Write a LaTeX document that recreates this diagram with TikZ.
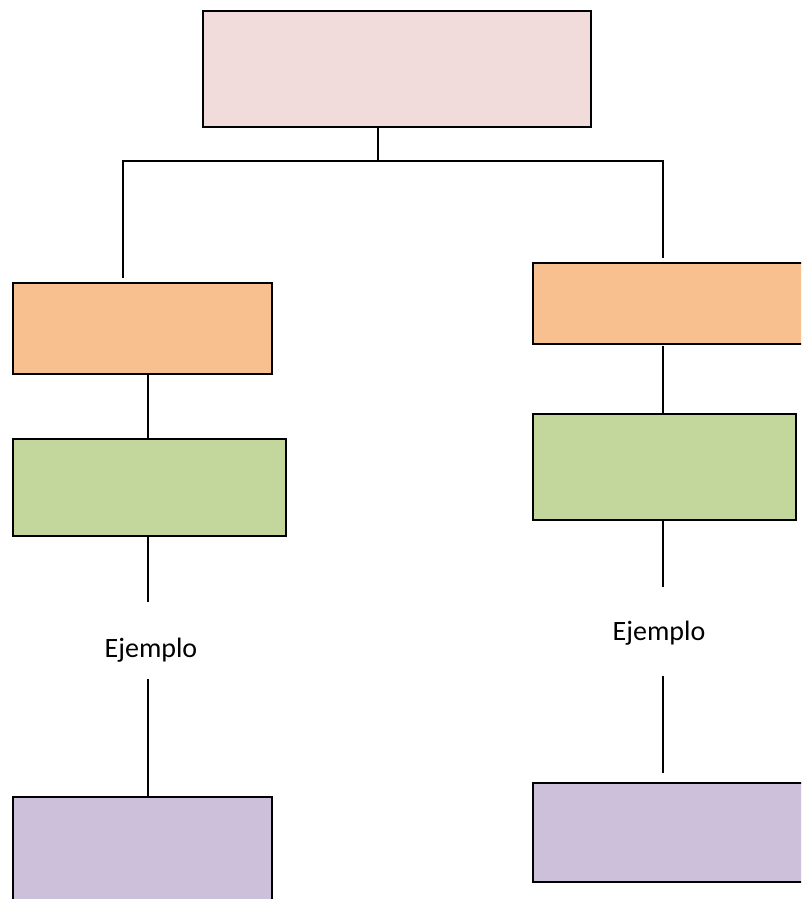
\documentclass[tikz,border=0pt]{standalone}
\usepackage{fontspec}
\setmainfont{Carlito}
\definecolor{cpink}{HTML}{F2DCDB}
\definecolor{corange}{HTML}{F8C08F}
\definecolor{cgreen}{HTML}{C3D69B}
\definecolor{cpurple}{HTML}{CCC0DA}
\begin{document}
\begin{tikzpicture}[x=1pt,y=-1pt,
  box/.style={draw=black,line width=2pt,inner sep=0pt,anchor=north west},
  conn/.style={draw=black,line width=1.6pt},
  lbl/.style={font=\fontsize{28}{32}\selectfont,anchor=base,inner sep=0pt}]
\useasboundingbox (0,0) rectangle (801,899);
\clip (0,0) rectangle (801,899);
% boxes
\node[box,fill=cpink,minimum width=388pt,minimum height=116pt] (top) at (202,10) {};
\node[box,fill=corange,minimum width=259pt,minimum height=91pt] (lor) at (12,282) {};
\node[box,fill=cgreen,minimum width=273pt,minimum height=97pt] (lgr) at (12,438) {};
\node[box,fill=cpurple,minimum width=259pt,minimum height=130pt] (lpu) at (12,796) {};
\node[box,fill=corange,minimum width=300pt,minimum height=81pt] (ror) at (532,262) {};
\node[box,fill=cgreen,minimum width=263pt,minimum height=106pt] (rgr) at (532,413) {};
\node[box,fill=cpurple,minimum width=300pt,minimum height=99pt] (rpu) at (532,782) {};
% labels
\node[lbl] (lex) at (151,657) {Ejemplo};
\node[lbl] (rex) at (659,640) {Ejemplo};
% connector points
\coordinate (tb) at (378,126);
\coordinate (tj) at (378,161);
\coordinate (lj) at (123,161);
\coordinate (rj) at (663,161);
\coordinate (le) at (123,278);
\coordinate (re) at (663,258);
\coordinate (l1a) at (148,373);
\coordinate (l1b) at (148,440);
\coordinate (l2a) at (148,535);
\coordinate (l2b) at (148,602);
\coordinate (l3a) at (148,679);
\coordinate (l3b) at (148,797);
\coordinate (r1a) at (663,346);
\coordinate (r1b) at (663,414);
\coordinate (r2a) at (663,519);
\coordinate (r2b) at (663,587);
\coordinate (r3a) at (663,676);
\coordinate (r3b) at (663,773);
% connectors
\draw[conn] (tb) -- (tj);
\draw[conn] (le) -- (lj) -- (rj) -- (re);
\draw[conn] (l1a) -- (l1b);
\draw[conn] (l2a) -- (l2b);
\draw[conn] (l3a) -- (l3b);
\draw[conn] (r1a) -- (r1b);
\draw[conn] (r2a) -- (r2b);
\draw[conn] (r3a) -- (r3b);
\end{tikzpicture}
\end{document}
